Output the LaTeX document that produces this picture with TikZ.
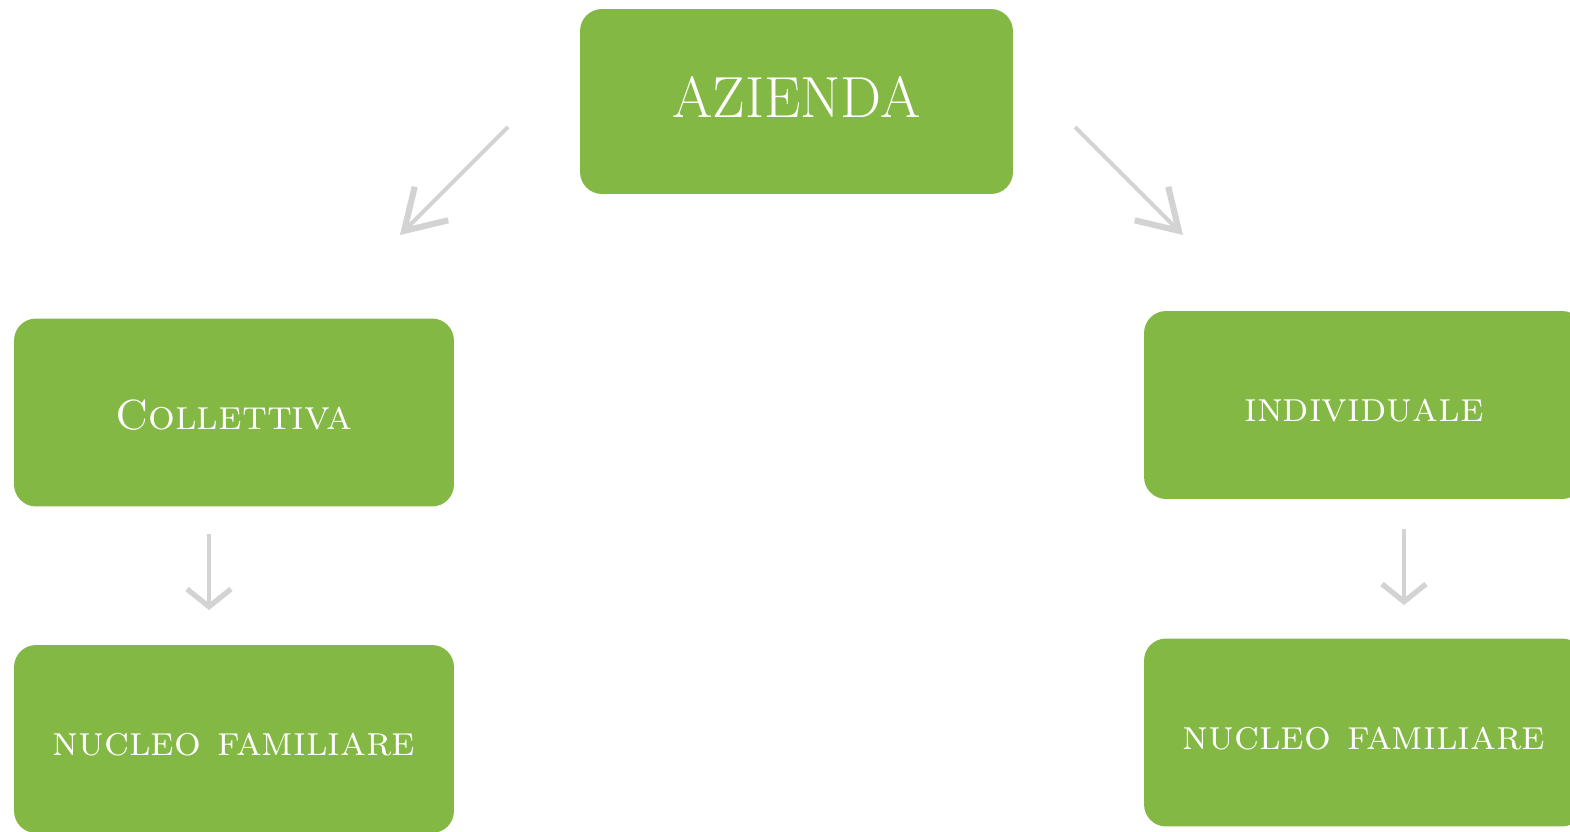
\documentclass[tikz,border=0pt]{standalone}
\usepackage{amsmath}
\usetikzlibrary{arrows.meta}
\definecolor{boxgreen}{RGB}{132,184,68}
\definecolor{linkgray}{RGB}{211,211,211}

\begin{document}
\begin{tikzpicture}[x=0.02cm,y=-0.02cm]
\tikzstyle{box}=[rectangle,rounded corners=0.44cm,fill=boxgreen,text=white,minimum width=8.8cm,minimum height=3.76cm,inner sep=0pt,text height=20pt,text depth=0.8pt,font=\fontsize{24}{30}\selectfont\scshape]
\tikzstyle{top}=[minimum width=8.66cm,minimum height=3.7cm,text height=19.5pt,font=\fontsize{33}{40}\selectfont]
\tikzstyle{link}=[draw=linkgray,line width=2.3pt]
\tikzstyle{diag}=[-{Straight Barb[length=22pt,width=27pt,line width=3.5pt]}]
\tikzstyle{down}=[-{Straight Barb[length=10pt,width=25pt,line width=3pt]}]
\useasboundingbox (0,0) rectangle (1570,832);
\node[box,top] (azienda) at (796.5,101.5) {AZIENDA};
\node[box] (collettiva) at (234,412.5) {Collettiva};
\node[box] (nucleoL) at (234,739) {nucleo familiare};
\node[box] (individuale) at (1364,405) {individuale};
\node[box] (nucleoR) at (1364,732.5) {nucleo familiare};
% arrows
\coordinate (aL) at (508,127);
\coordinate (bL) at (400,235);
\coordinate (aR) at (1075,127);
\coordinate (bR) at (1183,235);
\coordinate (cL) at (209,534);
\coordinate (dL) at (209,610);
\coordinate (cR) at (1404,529);
\coordinate (dR) at (1404,605);
\draw[link,diag] (aL) -- (bL);
\draw[link,diag] (aR) -- (bR);
\draw[link,down] (cL) -- (dL);
\draw[link,down] (cR) -- (dR);
\end{tikzpicture}
\end{document}
